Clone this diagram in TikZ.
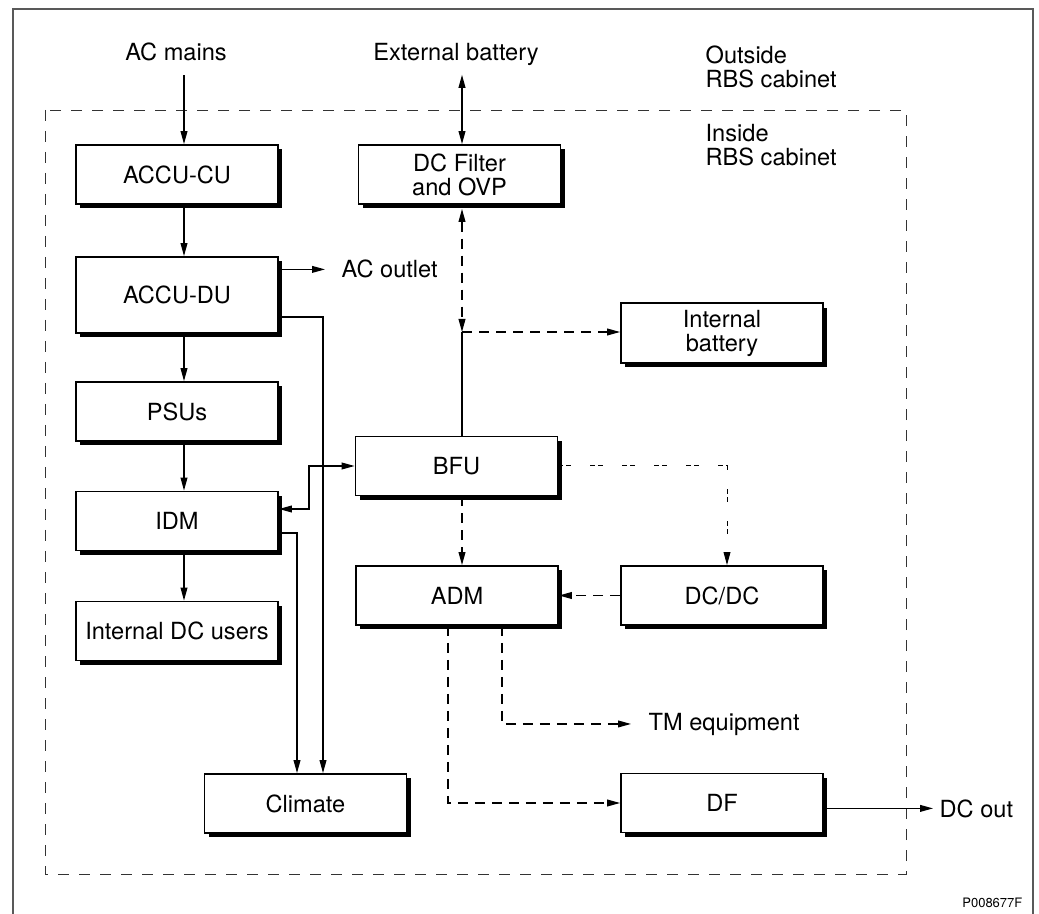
\documentclass[tikz,border=0pt]{standalone}
\usepackage{fontspec}
\setmainfont{TeX Gyre Heros}
\usetikzlibrary{arrows.meta, shadows}

\begin{document}
\begin{tikzpicture}[x=0.5pt, y=-0.5pt, line width=0.65pt,
		font=\fontsize{11.8}{12}\selectfont,
		>={Triangle[length=6.5pt, width=3.4pt]},
		unit/.style={draw, fill=white, line width=0.9pt, minimum width=101pt, minimum height=29.5pt, align=center,
			drop shadow={shadow xshift=2.2pt, shadow yshift=-2.2pt, opacity=1, fill=black}},
		lbl/.style={inner sep=0pt},
		dsh/.style={dash pattern=on 5pt off 3.5pt},
		dshdot/.style={line width=0.5pt, dash pattern=on 2.5pt off 1.5pt on 2.5pt off 9.5pt},
		cabinet/.style={line width=0.45pt, black!80, dash pattern=on 5.5pt off 5pt},
		frame/.style={line width=0.7pt, black!65}]
			\useasboundingbox (0,0) rectangle (1039,914);
			\draw [frame] (13,914) -- (13,9) -- (1033,9) -- (1033,914);
			\draw [cabinet] (45,110) rectangle (906,874);
			
			\coordinate (lc) at (184,0);
			\coordinate (rc) at (462,0);
			\coordinate (c1) at (297,0);
			\coordinate (c2) at (323,0);
			\coordinate (jn) at (462,332);
			
			\node [lbl, anchor=base] (acmains) at (176,61) {AC mains};
			\node [lbl, anchor=base] (extbat) at (456,61) {External battery};
			\node [lbl, anchor=north west, align=left] (outside) at (705,45) {Outside\\RBS cabinet};
			\node [lbl, anchor=north west, align=left] (inside) at (705,124) {Inside\\RBS cabinet};
			\node [lbl, anchor=base west] (acout) at (341,278) {AC outlet};
			\node [lbl, anchor=base west] (tm) at (648,730) {TM equipment};
			\node [lbl, anchor=base west] (dcout) at (939,817) {DC out};
			\node [lbl, anchor=base east, font=\fontsize{6.5}{8}\selectfont] (ref) at (1023,907) {P008677F};
			
			\node [unit] (accucu) at (177,174.5) {ACCU-CU};
			\node [unit, minimum height=38pt] (accudu) at (177,295) {ACCU-DU};
			\node [unit] (psus) at (177,411.5) {PSUs};
			\node [unit] (idm) at (177,521) {IDM};
			\node [unit] (dcusers) at (177,631) {Internal DC users};
			\node [unit] (climate) at (305.5,803.5) {Climate};
			\node [unit] (dcfilter) at (459.5,174.5) {DC Filter\\and OVP};
			\node [unit] (intbat) at (722,333) {Internal\\battery};
			\node [unit] (bfu) at (456.5,466) {BFU};
			\node [unit] (adm) at (457,595.5) {ADM};
			\node [unit] (dcdc) at (722,595.5) {DC/DC};
			\node [unit] (df) at (722,803) {DF};
			
			\draw [->, shorten <=6.5pt] (lc |- acmains.south) -- (lc |- accucu.north);
			\draw [->] (lc |- accucu.south) -- (lc |- accudu.north);
			\draw [->] (lc |- accudu.south) -- (lc |- psus.north);
			\draw [->] (lc |- psus.south) -- (lc |- idm.north);
			\draw [->] (lc |- idm.south) -- (lc |- dcusers.north);
			\draw [->, shorten >=8pt] (accudu.east |- acout.west) -- (acout.west);
			\draw [->] ([yshift=-11pt]accudu.east) -| (c2 |- climate.north);
			\draw [->] ([yshift=-6pt]idm.east) -| (c1 |- climate.north);
			\draw [<->] ([yshift=6pt]idm.east) -- ++(30,0) |- (bfu.west);
			
			\draw [<->, shorten <=4pt] (rc |- extbat.south) -- (rc |- dcfilter.north);
			\draw [<->, dsh, shorten <=2pt] (rc |- dcfilter.south) -- (jn);
			\draw [->, dsh] (jn) -- (jn -| intbat.west);
			\draw (jn) -- (rc |- bfu.north);
			\draw [->, dsh] (rc |- bfu.south) -- (rc |- adm.north);
			\draw [->, dshdot] (bfu.east) -| ([xshift=2.5pt]dcdc.north);
			\draw [->, dsh] (dcdc.west) -- (adm.east);
			\draw [->, dsh, shorten >=8.5pt] ([xshift=22.5pt]adm.south) |- (tm.west);
			\draw [->, dsh] ([xshift=-4.5pt]adm.south) |- (df.west);
			\draw [->, shorten >=3pt] (df.east |- dcout.west) -- (dcout.west);
		\end{tikzpicture}
\end{document}
